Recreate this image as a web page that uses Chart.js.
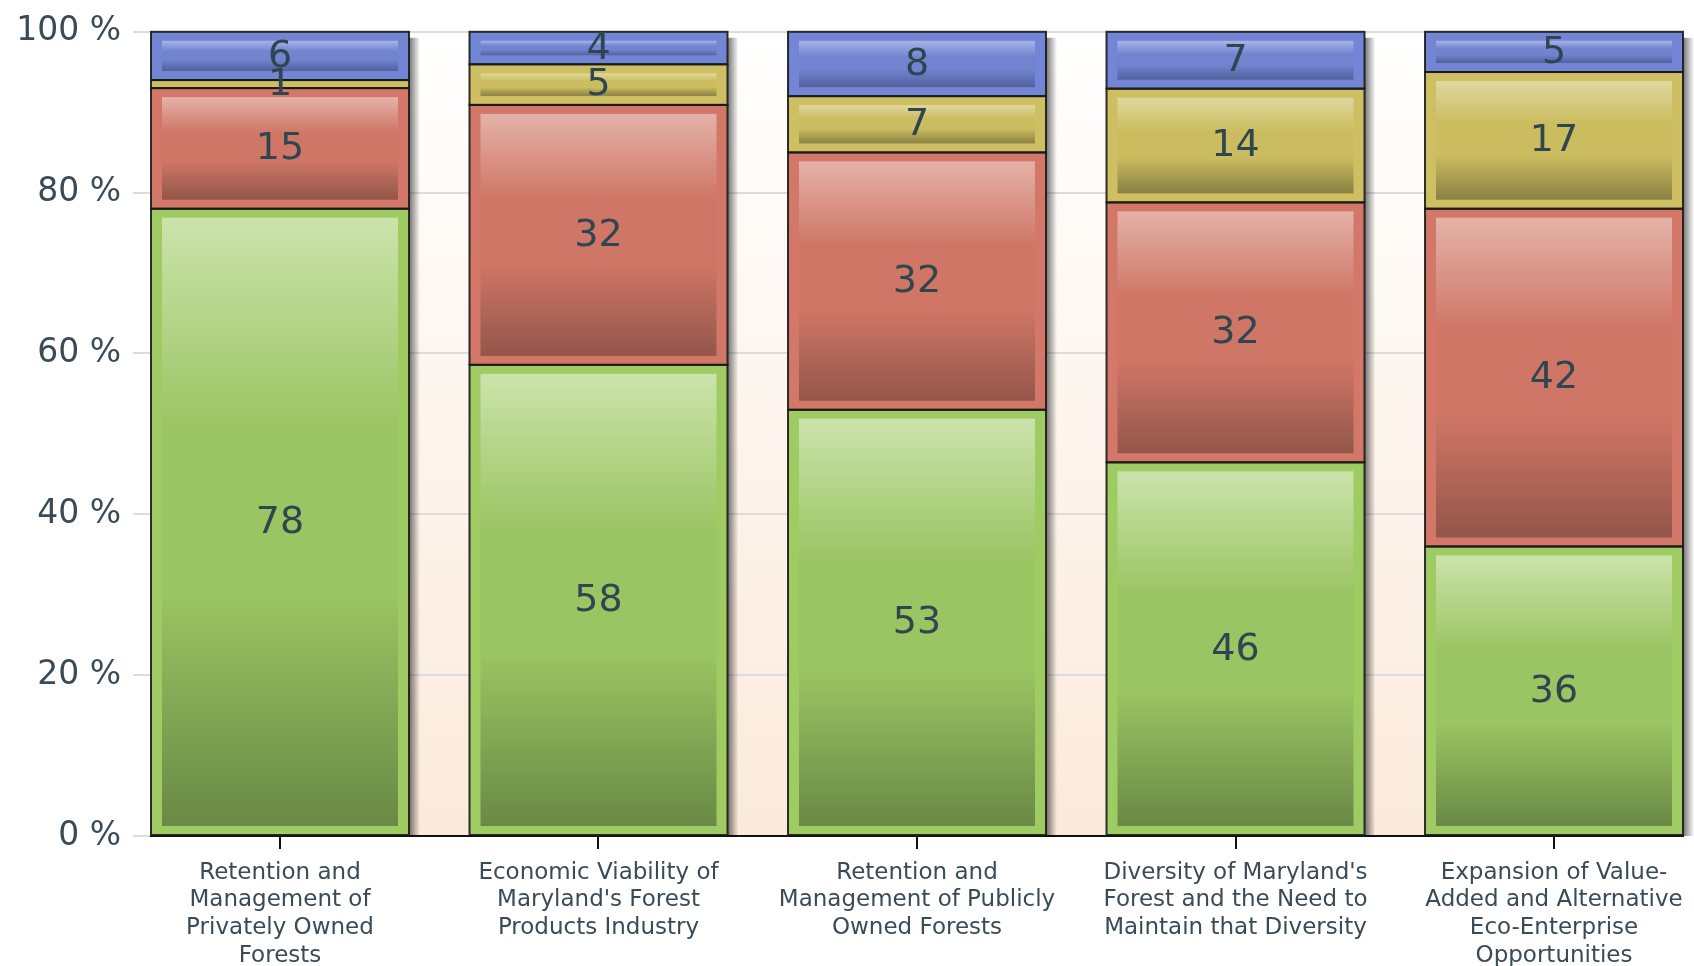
<!DOCTYPE html>
<html>
<head>
<meta charset="utf-8">
<script src="https://cdn.jsdelivr.net/npm/chart.js@4.4.1/dist/chart.umd.min.js"></script>
<style>
  html, body { margin: 0; padding: 0; background: #fff; }
  #wrap { width: 1694px; height: 966px; }
</style>
</head>
<body>
<div id="wrap"><canvas id="chart" width="1694" height="966"></canvas></div>
<script>
// categories (multi-line axis labels)
const categories = [
  ['Retention and', 'Management of', 'Privately Owned', 'Forests'],
  ['Economic Viability of', "Maryland's Forest", 'Products Industry'],
  ['Retention and', 'Management of Publicly', 'Owned Forests'],
  ["Diversity of Maryland's", 'Forest and the Need to', 'Maintain that Diversity'],
  ['Expansion of Value-', 'Added and Alternative', 'Eco-Enterprise', 'Opportunities']
];

// values printed in the segments, bottom to top
const greenValues  = [78, 58, 53, 46, 36];
const redValues    = [15, 32, 32, 32, 42];
const yellowValues = [1, 5, 7, 14, 17];
const blueValues   = [6, 4, 8, 7, 5];

const yTicks = [0, 20, 40, 60, 80, 100];

const seriesList = [greenValues, redValues, yellowValues, blueValues];
const seriesNames = ['Green', 'Red', 'Yellow', 'Blue'];

// frame colour + inner gloss gradient for each series
const palette = [
  {frame: '#9fcb63', top: '#cbe3ab', mid: '#9bc462', bot: '#6a8946'},
  {frame: '#d37868', top: '#e4b2a8', mid: '#cf7666', bot: '#93564a'},
  {frame: '#cebf62', top: '#dfd89f', mid: '#cbbd5f', bot: '#898044'},
  {frame: '#7385d5', top: '#a8b4e7', mid: '#7283d0', bot: '#53619d'}
];

// each bar is shown as a 100 % stack
const totals = categories.map((c, i) => seriesList.reduce((s, arr) => s + arr[i], 0));

// plot area gets a white -> peach gradient
const plotBackground = {
  id: 'plotBackground',
  beforeDraw(chart) {
    const {ctx, chartArea: a} = chart;
    const g = ctx.createLinearGradient(0, a.top, 0, a.bottom);
    g.addColorStop(0, '#ffffff');
    g.addColorStop(1, '#fbeadb');
    ctx.save();
    ctx.fillStyle = g;
    ctx.fillRect(a.left, a.top, a.right - a.left, a.bottom - a.top);
    ctx.restore();
  }
};

// soft shadow on the right side of every stack
const barShadow = {
  id: 'barShadow',
  beforeDatasetsDraw(chart) {
    const {ctx, chartArea} = chart;
    const metas = chart.getSortedVisibleDatasetMetas();
    ctx.save();
    categories.forEach((c, i) => {
      let top = Infinity, x = 0, w = 0;
      metas.forEach(m => {
        const p = m.data[i].getProps(['x', 'y', 'width'], true);
        top = Math.min(top, p.y);
        x = p.x; w = p.width;
      });
      const right = x + w / 2;
      const g = ctx.createLinearGradient(right, 0, right + 11, 0);
      g.addColorStop(0, 'rgba(0,0,0,0.55)');
      g.addColorStop(1, 'rgba(0,0,0,0)');
      ctx.fillStyle = g;
      ctx.fillRect(right, top + 6, 11, chartArea.bottom - top - 6);
    });
    ctx.restore();
  }
};

// inner gloss, dark outlines and the value labels
const barGloss = {
  id: 'barGloss',
  afterDatasetsDraw(chart) {
    const {ctx} = chart;
    const metas = chart.getSortedVisibleDatasetMetas();
    ctx.save();
    metas.forEach(m => {
      const pal = palette[m.index];
      m.data.forEach(el => {
        const p = el.getProps(['x', 'y', 'base', 'width'], true);
        const left = p.x - p.width / 2, top = Math.min(p.y, p.base), bottom = Math.max(p.y, p.base);
        const ix = 11, iy = 9;
        if (bottom - top > iy * 2 + 2) {
          const g = ctx.createLinearGradient(0, top + iy, 0, bottom - iy);
          g.addColorStop(0, pal.top);
          g.addColorStop(0.35, pal.mid);
          g.addColorStop(0.62, pal.mid);
          g.addColorStop(1, pal.bot);
          ctx.fillStyle = g;
          ctx.fillRect(left + ix, top + iy, p.width - ix * 2, bottom - top - iy * 2);
        }
        ctx.strokeStyle = 'rgba(25,25,25,0.9)';
        ctx.lineWidth = 2;
        ctx.strokeRect(left, top, p.width, bottom - top);
      });
    });
    ctx.font = '38px "DejaVu Sans"';
    ctx.fillStyle = '#2f4650';
    ctx.textAlign = 'center';
    ctx.textBaseline = 'middle';
    metas.forEach(m => {
      m.data.forEach((el, i) => {
        const p = el.getProps(['x', 'y', 'base'], true);
        ctx.fillText(String(seriesList[m.index][i]), p.x, (p.y + p.base) / 2 + 1);
      });
    });
    ctx.restore();
  }
};

new Chart(document.getElementById('chart'), {
  type: 'bar',
  data: {
    datasets: seriesList.map((vals, k) => ({
      label: seriesNames[k],
      data: vals.map((v, i) => ({x: i, y: v / totals[i] * 100})),
      backgroundColor: palette[k].frame,
      borderWidth: 0,
      barPercentage: 0.81,
      categoryPercentage: 1
    }))
  },
  options: {
    responsive: false,
    animation: false,
    layout: {padding: {top: 31, right: 11, left: 0, bottom: 0}},
    plugins: {legend: {display: false}, tooltip: {enabled: false}},
    scales: {
      x: {
        type: 'linear',
        stacked: true,
        min: -0.405,
        max: 4.405,
        offset: false,
        afterBuildTicks: s => { s.ticks = categories.map((c, i) => ({value: i})); },
        afterFit: s => { s.height = 130; s.paddingLeft = 0; s.paddingRight = 0; },
        ticks: {
          autoSkip: false,
          maxRotation: 0,
          callback: v => categories[v],
          font: {family: 'DejaVu Sans', size: 23, lineHeight: 1.2},
          color: '#3a4b58',
          padding: 10
        },
        grid: {offset: false, drawOnChartArea: false, tickLength: 13, color: '#111', lineWidth: 2},
        border: {color: '#111', width: 2}
      },
      y: {
        stacked: true,
        min: 0,
        max: 100,
        afterBuildTicks: s => { s.ticks = yTicks.map(v => ({value: v})); },
        afterFit: s => { s.width = 151; },
        ticks: {
          callback: v => v + ' %',
          font: {family: 'DejaVu Sans', size: 33},
          color: '#3a4b58',
          padding: 12
        },
        grid: {color: '#dcdcdc', lineWidth: 2, tickLength: 18},
        border: {display: false}
      }
    }
  },
  plugins: [plotBackground, barShadow, barGloss]
});
</script>
</body>
</html>
